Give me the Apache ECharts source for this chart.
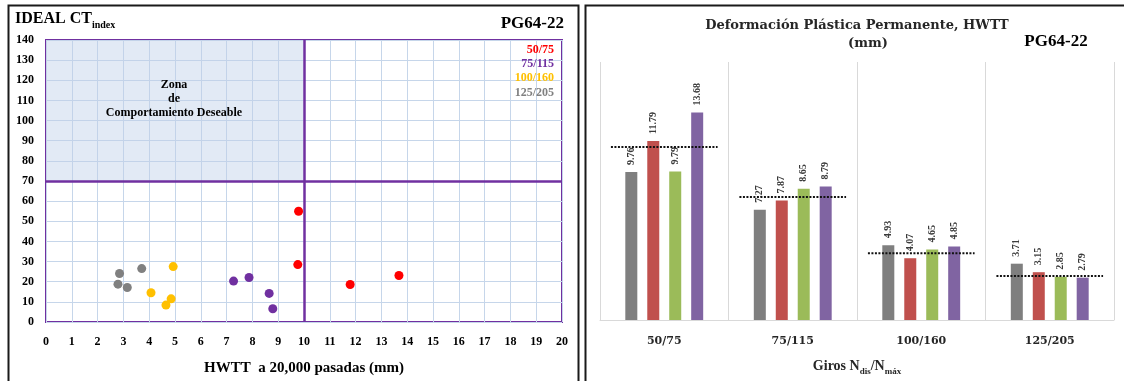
<!DOCTYPE html>
<html>
<head>
<meta charset="utf-8">
<script src="https://cdn.jsdelivr.net/npm/echarts@6/dist/echarts.min.js"></script>
<style>
  html, body { margin: 0; padding: 0; background: #ffffff; }
  #chart { width: 1124px; height: 381px; }
</style>
</head>
<body>
<div id="chart"></div>
<script>
// ---- Ideal CT index vs HWTT rut depth (scatter) ----
const gradations = ['50/75', '75/115', '100/160', '125/205'];
const gradationColors = ['#ff0000', '#7030a0', '#ffc000', '#808080'];

// [HWTT rut depth at 20,000 passes (mm), CT index]
const pts50_75   = [[9.79, 55.0], [9.76, 28.5], [11.79, 18.6], [13.68, 23.1]];
const pts75_115  = [[7.27, 20.3], [7.87, 22.1], [8.65, 14.2], [8.79, 6.6]];
const pts100_160 = [[4.07, 14.5], [4.93, 27.5], [4.85, 11.5], [4.65, 8.4]];
const pts125_205 = [[2.85, 24.1], [2.79, 18.8], [3.15, 17.1], [3.71, 26.5]];

const ctLimit = 70;     // minimum CT index
const rutLimit = 10;    // maximum rut depth (mm)

// ---- Permanent deformation per gyration level (bars) ----
const gyrations = ['50/75', '75/115', '100/160', '125/205'];
const barGray   = [9.76, 7.27, 4.93, 3.71];
const barRed    = [11.79, 7.87, 4.07, 3.15];
const barGreen  = [9.79, 8.65, 4.65, 2.85];
const barPurple = [13.68, 8.79, 4.85, 2.79];
const groupRefLines = [11.4, 8.1, 4.4, 2.9];

const serif = '"Liberation Serif", "Times New Roman", serif';
const wideSerif = '"DejaVu Serif", serif';

const scatterSets = [pts50_75, pts75_115, pts100_160, pts125_205];

const scatterSeries = scatterSets.map((pts, i) => ({
  type: 'scatter',
  name: gradations[i],
  xAxisIndex: 0,
  yAxisIndex: 0,
  data: pts,
  symbolSize: 9,
  itemStyle: { color: gradationColors[i], opacity: 1 },
  z: 4
}));

// Desirable zone shading and the two limit lines
scatterSeries[0].markArea = {
  silent: true,
  itemStyle: { color: 'rgba(190,208,232,0.45)' },
  data: [[{ xAxis: 0, yAxis: ctLimit }, { xAxis: rutLimit, yAxis: 140 }]]
};
scatterSeries[0].markLine = {
  silent: true,
  symbol: 'none',
  label: { show: false },
  lineStyle: { color: '#7030a0', width: 2.5, type: 'solid' },
  data: [{ xAxis: rutLimit }, { yAxis: ctLimit }]
};

const barColors = ['#7f7f7f', '#c0504d', '#9bbb59', '#8064a2'];
const barSets = [barGray, barRed, barGreen, barPurple];

const barSeries = barSets.map((vals, i) => ({
  type: 'bar',
  xAxisIndex: 1,
  yAxisIndex: 1,
  data: vals,
  barWidth: 12,
  barGap: '83%',
  itemStyle: { color: barColors[i] },
  label: {
    show: true,
    position: 'top',
    rotate: 90,
    align: 'left',
    verticalAlign: 'middle',
    distance: 7,
    fontFamily: serif,
    fontWeight: 'bold',
    fontSize: 10,
    color: '#3a3a3a',
    formatter: p => p.value.toFixed(2)
  },
  z: 3
}));

const refLineSeries = {
  type: 'custom',
  xAxisIndex: 1,
  yAxisIndex: 1,
  data: groupRefLines.map((v, i) => [i, v]),
  encode: { x: 0, y: 1 },
  z: 6,
  silent: true,
  renderItem(params, api) {
    const c = api.coord([api.value(0), api.value(1)]);
    const w = api.size([1, 0])[0] * 0.83;
    return {
      type: 'line',
      shape: { x1: c[0] - w / 2, y1: c[1], x2: c[0] + w / 2, y2: c[1] },
      style: { stroke: '#111', lineWidth: 2, lineDash: [2, 1.5] }
    };
  }
};

const chart = echarts.init(document.getElementById('chart'), null, { renderer: 'canvas' });

chart.setOption({
  backgroundColor: '#ffffff',
  animation: false,
  grid: [
    { left: 46, top: 40, width: 516, height: 284, show: true, borderColor: '#7030a0', borderWidth: 2, backgroundColor: 'transparent' },
    { left: 600, top: 62, width: 514, height: 264 }
  ],
  xAxis: [
    {
      type: 'value', gridIndex: 0, min: 0, max: 20, interval: 1,
      axisLine: { show: false }, axisTick: { show: false },
      splitLine: { show: true, lineStyle: { color: '#c6d6ea', width: 1 } },
      axisLabel: { fontFamily: serif, fontWeight: 'bold', fontSize: 12, color: '#000', margin: 14 },
      name: 'HWTT  a 20,000 pasadas (mm)',
      nameLocation: 'middle', nameGap: 39,
      nameTextStyle: { fontFamily: serif, fontWeight: 'bold', fontSize: 15, color: '#000' }
    },
    {
      type: 'category', gridIndex: 1, data: gyrations,
      axisLine: { show: true, lineStyle: { color: '#d9d9d9', width: 1 } },
      axisTick: { show: false },
      splitLine: { show: true, interval: 0, lineStyle: { color: '#d9d9d9', width: 1 } },
      axisLabel: { fontFamily: wideSerif, fontWeight: 'bold', fontSize: 11, color: '#262626', margin: 16 },
      name: 'Giros N{s|dis}/N{s|máx}',
      nameLocation: 'middle', nameGap: 37,
      nameTextStyle: {
        fontFamily: serif, fontWeight: 'bold', fontSize: 14, color: '#262626',
        rich: {
          s: { fontFamily: serif, fontWeight: 'bold', fontSize: 9, color: '#262626', verticalAlign: 'bottom', lineHeight: 19 }
        }
      }
    }
  ],
  yAxis: [
    {
      type: 'value', gridIndex: 0, min: 0, max: 140, interval: 10,
      axisLine: { show: false }, axisTick: { show: false },
      splitLine: { show: true, lineStyle: { color: '#c6d6ea', width: 1 } },
      axisLabel: { fontFamily: serif, fontWeight: 'bold', fontSize: 12, color: '#000', margin: 12 }
    },
    {
      type: 'value', gridIndex: 1, min: 0, max: 17,
      show: false,
      splitLine: { show: false }
    }
  ],
  series: [...scatterSeries, ...barSeries, refLineSeries],
  graphic: [
    // panel frames
    { type: 'rect', shape: { x: 8.5, y: 5.5, width: 570, height: 390 }, style: { fill: 'none', stroke: '#1a1a1a', lineWidth: 2 }, z: 100, silent: true },
    { type: 'rect', shape: { x: 585.5, y: 5.5, width: 560, height: 390 }, style: { fill: 'none', stroke: '#1a1a1a', lineWidth: 2 }, z: 100, silent: true },
    // left panel titles
    {
      type: 'text', left: 15, top: 11, z: 100,
      style: {
        text: 'IDEAL CT{s|index}',
        fontFamily: serif, fontWeight: 'bold', fontSize: 16, fill: '#000',
        rich: { s: { fontFamily: serif, fontWeight: 'bold', fontSize: 10, fill: '#000', verticalAlign: 'bottom', lineHeight: 22 } }
      }
    },
    {
      type: 'text', z: 100, x: 564, y: 24,
      style: { text: 'PG64-22', fontFamily: serif, fontWeight: 'bold', fontSize: 17, fill: '#000', textAlign: 'right', textVerticalAlign: 'middle' }
    },
    // gradation key inside the plot
    ...gradations.map((g, i) => ({
      type: 'text', z: 100,
      x: 554, y: 50 + i * 14.2,
      style: { text: g, fontFamily: serif, fontWeight: 'bold', fontSize: 12, fill: gradationColors[i], textAlign: 'right', textVerticalAlign: 'middle' }
    })),
    // zone label
    {
      type: 'text', z: 100, x: 174, y: 99,
      style: {
        text: 'Zona\nde\nComportamiento Deseable',
        fontFamily: serif, fontWeight: 'bold', fontSize: 12, lineHeight: 14, fill: '#000',
        textAlign: 'center', textVerticalAlign: 'middle'
      }
    },
    // right panel titles
    {
      type: 'text', z: 100, x: 857, y: 26,
      style: { text: 'Deformación Plástica Permanente, HWTT', fontFamily: wideSerif, fontWeight: 'bold', fontSize: 13, fill: '#262626', textAlign: 'center', textVerticalAlign: 'middle' }
    },
    {
      type: 'text', z: 100, x: 868, y: 44,
      style: { text: '(mm)', fontFamily: wideSerif, fontWeight: 'bold', fontSize: 13, fill: '#262626', textAlign: 'center', textVerticalAlign: 'middle' }
    },
    {
      type: 'text', z: 100, x: 1056, y: 42,
      style: { text: 'PG64-22', fontFamily: serif, fontWeight: 'bold', fontSize: 17, fill: '#000', textAlign: 'center', textVerticalAlign: 'middle' }
    }
  ]
});
</script>
</body>
</html>
